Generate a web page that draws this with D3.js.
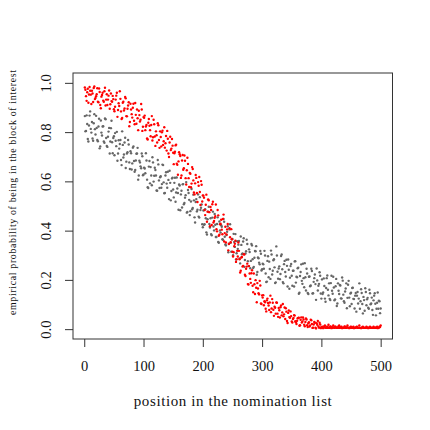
<!DOCTYPE html>
<html>
<head>
<meta charset="utf-8">
<script src="https://cdn.jsdelivr.net/npm/d3@7"></script>
<style>
    body { margin: 0; background: #fff; }
    svg text { font-family: 'Liberation Serif', 'Times New Roman', serif; fill: #111; }
    .tick text { font-size: 14.5px; }
</style>
</head>
<body>
<svg id="plot" width="430" height="430"></svg>
<script>
'use strict';

// Grey series: one value per list position (1..500)
const greyValues = [
    0.865,0.803,0.805,0.868,0.833,0.772,0.762,0.827,0.867,0.884,0.813,0.798,0.841,0.774,0.765,0.836,0.873,0.812,0.790,0.866,0.817,0.768,0.763,0.823,0.854,
    0.734,0.742,0.847,0.798,0.786,0.823,0.824,0.762,0.757,0.855,0.852,0.776,0.744,0.740,0.781,0.802,0.817,0.713,0.762,0.816,0.846,0.759,0.714,0.776,0.783,
    0.706,0.796,0.765,0.743,0.801,0.684,0.713,0.767,0.733,0.752,0.768,0.687,0.666,0.803,0.748,0.697,0.709,0.758,0.777,0.654,0.680,0.713,0.718,0.768,0.750,
    0.677,0.650,0.722,0.714,0.648,0.673,0.737,0.742,0.683,0.639,0.646,0.685,0.712,0.713,0.736,0.607,0.624,0.684,0.677,0.661,0.653,0.713,0.702,0.625,0.628,
    0.656,0.652,0.633,0.714,0.685,0.607,0.576,0.573,0.660,0.683,0.592,0.658,0.624,0.584,0.698,0.677,0.599,0.623,0.655,0.646,0.624,0.563,0.562,0.687,0.669,
    0.604,0.573,0.617,0.621,0.574,0.589,0.668,0.666,0.596,0.552,0.553,0.624,0.637,0.591,0.574,0.639,0.606,0.528,0.643,0.594,0.523,0.561,0.612,0.615,0.567,
    0.535,0.594,0.615,0.517,0.555,0.616,0.571,0.553,0.485,0.587,0.583,0.483,0.547,0.562,0.494,0.588,0.589,0.507,0.512,0.534,0.544,0.597,0.473,0.476,0.565,
    0.553,0.525,0.463,0.479,0.518,0.569,0.487,0.492,0.546,0.523,0.454,0.433,0.516,0.528,0.478,0.485,0.547,0.457,0.453,0.536,0.484,0.493,0.506,0.426,0.414,
    0.482,0.424,0.426,0.487,0.450,0.393,0.384,0.446,0.477,0.497,0.427,0.413,0.450,0.386,0.381,0.453,0.477,0.417,0.401,0.468,0.424,0.374,0.374,0.427,0.454,
    0.354,0.351,0.437,0.401,0.392,0.422,0.416,0.365,0.363,0.447,0.436,0.375,0.344,0.340,0.382,0.395,0.418,0.312,0.347,0.405,0.426,0.351,0.314,0.365,0.366,
    0.300,0.387,0.354,0.334,0.386,0.283,0.308,0.357,0.326,0.343,0.358,0.287,0.267,0.376,0.342,0.304,0.307,0.356,0.369,0.253,0.281,0.307,0.316,0.363,0.346,
    0.276,0.256,0.324,0.313,0.247,0.277,0.346,0.340,0.284,0.248,0.253,0.290,0.317,0.316,0.337,0.221,0.232,0.291,0.288,0.270,0.263,0.317,0.306,0.238,0.243,
    0.266,0.263,0.245,0.318,0.299,0.226,0.191,0.193,0.277,0.296,0.211,0.274,0.244,0.204,0.319,0.303,0.222,0.237,0.280,0.284,0.251,0.187,0.190,0.336,0.299,
    0.233,0.205,0.246,0.255,0.203,0.224,0.297,0.303,0.243,0.191,0.186,0.264,0.277,0.232,0.214,0.282,0.257,0.173,0.283,0.241,0.164,0.209,0.256,0.265,0.217,
    0.176,0.237,0.237,0.173,0.275,0.276,0.189,0.213,0.211,0.247,0.249,0.144,0.148,0.216,0.232,0.263,0.196,0.184,0.266,0.207,0.170,0.268,0.211,0.157,0.245,
    0.226,0.147,0.143,0.213,0.214,0.174,0.177,0.245,0.236,0.145,0.146,0.192,0.207,0.222,0.183,0.119,0.246,0.198,0.157,0.176,0.184,0.231,0.217,0.145,0.124,
    0.202,0.143,0.149,0.206,0.175,0.124,0.111,0.167,0.207,0.218,0.160,0.137,0.186,0.123,0.118,0.187,0.217,0.156,0.144,0.213,0.169,0.117,0.121,0.174,0.204,
    0.094,0.104,0.186,0.156,0.143,0.179,0.177,0.125,0.124,0.210,0.197,0.140,0.113,0.107,0.153,0.165,0.186,0.085,0.127,0.180,0.196,0.128,0.093,0.145,0.148,
    0.102,0.167,0.168,0.123,0.122,0.084,0.136,0.147,0.071,0.136,0.151,0.104,0.124,0.186,0.083,0.113,0.162,0.147,0.102,0.064,0.131,0.118,0.075,0.166,0.151,
    0.097,0.121,0.127,0.087,0.083,0.160,0.146,0.101,0.104,0.128,0.078,0.058,0.117,0.136,0.146,0.103,0.056,0.083,0.107,0.149,0.083,0.116,0.113,0.065,0.084
];

// Red series: same positions
const redValues = [
    0.981,0.972,0.946,0.927,0.962,0.976,0.919,0.953,0.983,0.968,0.952,0.914,0.968,0.957,0.922,0.979,0.985,0.934,0.939,0.946,0.954,0.978,0.923,0.921,0.977,
    0.963,0.910,0.897,0.944,0.951,0.960,0.928,0.923,0.966,0.980,0.908,0.932,0.954,0.910,0.932,0.948,0.969,0.895,0.913,0.957,0.926,0.923,0.947,0.934,0.893,
    0.885,0.903,0.932,0.948,0.960,0.862,0.890,0.917,0.906,0.966,0.935,0.884,0.853,0.857,0.919,0.923,0.888,0.896,0.943,0.937,0.865,0.864,0.895,0.908,0.921,
    0.824,0.841,0.915,0.892,0.873,0.859,0.899,0.915,0.846,0.832,0.918,0.870,0.834,0.892,0.856,0.808,0.887,0.869,0.843,0.850,0.914,0.892,0.805,0.822,0.861,
    0.858,0.867,0.808,0.823,0.829,0.774,0.770,0.838,0.853,0.826,0.808,0.783,0.829,0.865,0.766,0.779,0.850,0.832,0.782,0.744,0.803,0.787,0.758,0.836,0.828,
    0.768,0.736,0.803,0.780,0.742,0.799,0.806,0.748,0.763,0.820,0.737,0.755,0.784,0.725,0.805,0.773,0.713,0.699,0.758,0.781,0.727,0.733,0.772,0.745,0.716,
    0.670,0.714,0.720,0.746,0.749,0.672,0.667,0.627,0.681,0.718,0.710,0.703,0.614,0.624,0.685,0.707,0.647,0.653,0.705,0.684,0.613,0.587,0.645,0.696,0.671,
    0.613,0.577,0.634,0.631,0.576,0.591,0.658,0.650,0.604,0.555,0.547,0.592,0.626,0.614,0.553,0.516,0.597,0.582,0.618,0.557,0.504,0.601,0.586,0.518,0.543,
    0.542,0.534,0.484,0.463,0.505,0.546,0.436,0.477,0.527,0.523,0.475,0.418,0.496,0.484,0.423,0.507,0.517,0.433,0.439,0.452,0.459,0.506,0.406,0.397,0.484,
    0.462,0.379,0.383,0.426,0.428,0.444,0.404,0.385,0.447,0.465,0.356,0.390,0.416,0.352,0.384,0.405,0.427,0.320,0.346,0.410,0.373,0.353,0.406,0.365,0.314,
    0.295,0.312,0.337,0.347,0.359,0.273,0.284,0.318,0.295,0.352,0.318,0.284,0.230,0.237,0.291,0.293,0.254,0.257,0.304,0.303,0.221,0.216,0.245,0.254,0.266,
    0.183,0.181,0.256,0.226,0.204,0.188,0.227,0.239,0.176,0.150,0.226,0.182,0.143,0.199,0.168,0.109,0.187,0.165,0.146,0.141,0.196,0.177,0.104,0.102,0.137,
    0.128,0.138,0.097,0.113,0.109,0.083,0.072,0.117,0.124,0.106,0.096,0.078,0.108,0.136,0.069,0.084,0.122,0.107,0.079,0.054,0.091,0.087,0.063,0.108,0.107,
    0.063,0.050,0.086,0.077,0.047,0.089,0.096,0.056,0.068,0.102,0.052,0.060,0.088,0.041,0.085,0.071,0.033,0.025,0.066,0.076,0.049,0.046,0.072,0.053,0.031,
    0.027,0.041,0.045,0.057,0.055,0.032,0.028,0.021,0.034,0.044,0.045,0.046,0.014,0.016,0.038,0.048,0.027,0.031,0.047,0.039,0.018,0.012,0.029,0.043,0.039,
    0.016,0.009,0.024,0.028,0.011,0.015,0.038,0.036,0.021,0.005,0.006,0.019,0.029,0.026,0.006,0.003,0.024,0.018,0.033,0.011,0.006,0.026,0.019,0.004,0.009,
    0.008,0.010,0.004,0.006,0.012,0.015,0.006,0.005,0.009,0.010,0.005,0.018,0.007,0.005,0.011,0.010,0.004,0.005,0.008,0.015,0.006,0.005,0.010,0.010,0.005,
    0.005,0.007,0.005,0.012,0.015,0.005,0.006,0.009,0.010,0.004,0.005,0.006,0.005,0.011,0.010,0.005,0.005,0.008,0.015,0.006,0.005,0.004,0.005,0.009,0.010,
    0.005,0.005,0.007,0.010,0.004,0.005,0.006,0.005,0.009,0.010,0.005,0.005,0.006,0.015,0.005,0.005,0.004,0.005,0.008,0.010,0.005,0.005,0.006,0.005,0.005,
    0.010,0.007,0.005,0.004,0.005,0.008,0.010,0.005,0.005,0.006,0.005,0.005,0.010,0.005,0.005,0.007,0.005,0.005,0.010,0.004,0.005,0.006,0.010,0.009,0.015
];

// Axis ticks and labels
const xTicks = [0, 100, 200, 300, 400, 500];
const yTicks = [0, 0.2, 0.4, 0.6, 0.8, 1.0];
const xTitle = 'position in the nomination list';
const yTitle = 'empirical probability of being in the block of interest';

// IIFE
(function () {

    const svg = d3.select('#plot');

    // Plot box (R style: data range padded by 4%)
    const box = {'left': 73, 'right': 392.5, 'top': 73, 'bottom': 339};

    // Scales
    const scX = d3.scaleLinear()
        .domain([-18.96, 519.96])
        .range([box.left, box.right]);

    const scY = d3.scaleLinear()
        .domain([-0.04, 1.04])
        .range([box.bottom, box.top]);

    // Points: position = index + 1
    const toPoints = (vals) => vals.map((v, i) => ({'pos': i + 1, 'v': v}));

    const drawSeries = (vals, colour, cls) => {
        svg.append('g')
            .attr('class', cls)
            .selectAll('circle')
            .data(toPoints(vals))
            .enter()
            .append('circle')
                .attr('cx', (d) => scX(d.pos))
                .attr('cy', (d) => scY(d.v))
                .attr('r', 1.2)
                .style('fill', colour);
    };

    drawSeries(greyValues, '#666666', 'grey');
    drawSeries(redValues, '#ff0000', 'red');

    // X axis
    const xAxis = svg.append('g')
        .attr('class', 'x axis')
        .attr('transform', `translate(0, ${box.bottom})`)
        .style('color', '#333')
        .call(d3.axisBottom(scX).tickValues(xTicks).tickSize(8).tickSizeOuter(0));
    xAxis.select('.domain').remove();
    xAxis.selectAll('text')
        .attr('y', 32)
        .attr('dy', 0);

    // Y axis, labels rotated like R's default
    const yAxis = svg.append('g')
        .attr('class', 'y axis')
        .attr('transform', `translate(${box.left}, 0)`)
        .style('color', '#333')
        .call(d3.axisLeft(scY).tickValues(yTicks).tickFormat(d3.format('.1f')).tickSize(8).tickSizeOuter(0));
    yAxis.select('.domain').remove();
    yAxis.selectAll('text')
        .attr('transform', 'rotate(-90)')
        .attr('x', 0)
        .attr('y', -22)
        .attr('dy', 0)
        .attr('text-anchor', 'middle');

    // Box
    svg.append('rect')
        .attr('x', box.left)
        .attr('y', box.top)
        .attr('width', box.right - box.left)
        .attr('height', box.bottom - box.top)
        .style('fill', 'none')
        .style('stroke', '#333')
        .style('stroke-width', 1);

    // Axis titles
    svg.append('text')
        .attr('x', (box.left + box.right) / 2)
        .attr('y', 406)
        .attr('text-anchor', 'middle')
        .attr('textLength', 198)
        .attr('lengthAdjust', 'spacing')
        .style('font-size', '15px')
        .text(xTitle);

    svg.append('text')
        .attr('transform', 'translate(16, 192.5) rotate(-90)')
        .attr('text-anchor', 'middle')
        .attr('textLength', 245)
        .attr('lengthAdjust', 'spacing')
        .style('font-size', '9.8px')
        .text(yTitle);

})();
</script>
</body>
</html>
